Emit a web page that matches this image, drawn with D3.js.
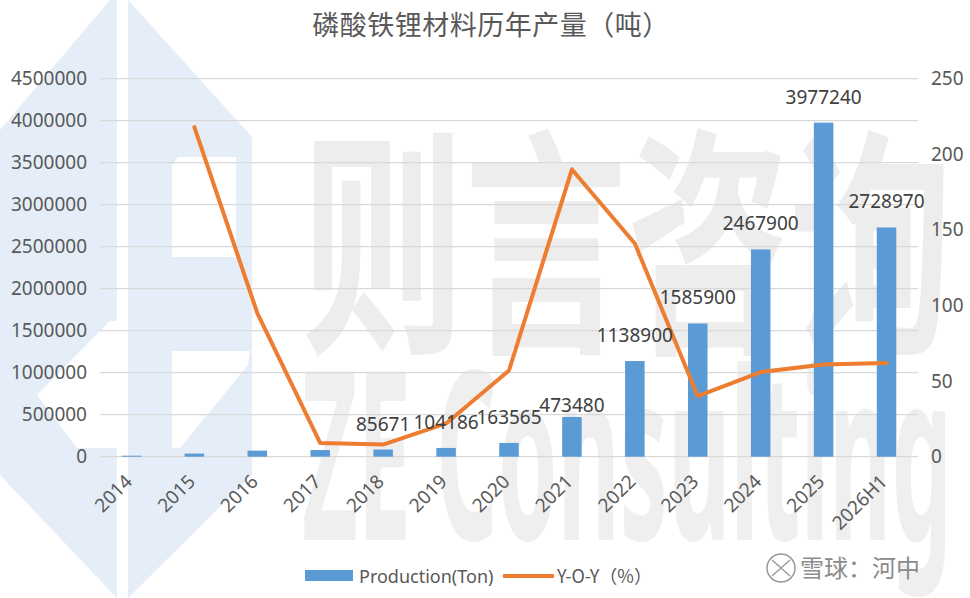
<!DOCTYPE html>
<html>
<head>
<meta charset="utf-8">
<script src="https://cdn.jsdelivr.net/npm/d3@7"></script>
<style>
  html, body { margin: 0; padding: 0; background: #fff; }
  svg { display: block; }
</style>
</head>
<body>
<svg id="chart" width="970" height="598"></svg>
<script>

// data
var years      = ["2014","2015","2016","2017","2018","2019","2020","2021","2022","2023","2024","2025","2026H1"];
var production = [12000, 37000, 72000, 79000, 85671, 104186, 163565, 473480, 1138900, 1585900, 2467900, 3977240, 2728970];
var yoy        = [null, 218, 95, 9, 8, 22, 57, 190, 141, 40, 56, 61, 62];
var leftTicks  = [0,500000,1000000,1500000,2000000,2500000,3000000,3500000,4000000,4500000];
var rightTicks = [0,50,100,150,200,250];

var title = "磷酸铁锂材料历年产量（吨）";
var barName = "Production(Ton)", lineName = "Y-O-Y（%）";

var W=970, H=598;
var pLeft=100, pRight=918, pTop=78.7, pBottom=456.7;   // plot area
var numFont = "'Noto Sans', 'DejaVu Sans', sans-serif";
var cjkFont = "'Noto Sans CJK SC', 'Noto Sans', sans-serif";

var svg = d3.select("#chart");

/* watermark background, drawn first so everything sits on it */
var wm = svg.append("g").attr("class","watermark");
var wmBlue="#e5eef8";
wm.append("polygon").attr("points","128,0 252,137 252,475 128,598").attr("fill",wmBlue);
wm.append("polygon").attr("points","110,0 117,0 117,598 0,475 0,130").attr("fill",wmBlue);
// white cut-outs of the logo
wm.append("polygon").attr("points","178,157 236,157 236,257 172,257 172,165").attr("fill","#fff");
wm.append("polygon").attr("points","172,351 250,351 248,365 180,448 172,448").attr("fill","#fff");
wm.append("polygon").attr("points","110,321 117,321 117,448 77,448 37,395").attr("fill","#fff");

wm.append("text")
	.attr("x",302).attr("y",334)
	.attr("font-family",cjkFont).attr("font-weight","bold")
	.attr("font-size",240).attr("fill","#ededed")
	.attr("textLength",650).attr("lengthAdjust","spacingAndGlyphs")
	.text("则言咨询");
wm.append("text")
	.attr("x",302).attr("y",540)
	.attr("font-family",numFont).attr("font-weight","bold")
	.attr("font-size",235).attr("fill","#efefef")
	.attr("textLength",650).attr("lengthAdjust","spacingAndGlyphs")
	.text("ZE Consulting");

// scales
var x = d3.scaleBand().domain(years).range([pLeft,pRight]).paddingInner(0.69).paddingOuter(0.345);
var xc = function(d){ return x(d)+x.bandwidth()/2; };
var y = d3.scaleLinear().domain([0,4500000]).range([pBottom,pTop]);
var y2 = d3.scaleLinear().domain([0,250]).range([pBottom,pTop]);

// gridlines
svg.append("g").selectAll("line").data(leftTicks).enter().append("line")
	.attr("x1",pLeft).attr("x2",pRight)
	.attr("y1",function(d){return y(d);}).attr("y2",function(d){return y(d);})
	.attr("stroke","#d9d9d9").attr("stroke-width",1.2);

// axes (labels only, no domain)
var axL = svg.append("g").attr("transform","translate("+pLeft+",0)")
	.call(d3.axisLeft(y).tickValues(leftTicks).tickSize(0).tickPadding(13).tickFormat(d3.format("d")));
var axR = svg.append("g").attr("transform","translate("+pRight+",0)")
	.call(d3.axisRight(y2).tickValues(rightTicks).tickSize(0).tickPadding(13));
[axL,axR].forEach(function(a){
	a.select(".domain").remove();
	a.selectAll("text").attr("font-family",numFont).attr("font-size",19).attr("fill","#595959");
});

var axB = svg.append("g").attr("transform","translate(0,"+pBottom+")")
	.call(d3.axisBottom(x).tickSize(0).tickPadding(0));
axB.select(".domain").remove();
axB.selectAll("text")
	.attr("font-family",numFont).attr("font-size",19).attr("fill","#595959")
	.attr("text-anchor","end").attr("dy",0).attr("y",0)
	.attr("transform","translate(2,26) rotate(-45)");

// bars
svg.append("g").selectAll("rect").data(years).enter().append("rect")
	.attr("x",function(d){return x(d);})
	.attr("width",x.bandwidth())
	.attr("y",function(d,i){return y(production[i]);})
	.attr("height",function(d,i){return pBottom-y(production[i]);})
	.attr("fill","#5b9bd5");

// yoy line
var line = d3.line()
	.defined(function(d){return d[1]!=null;})
	.x(function(d){return xc(d[0]);})
	.y(function(d){return y2(d[1]);});
svg.append("path")
	.datum(years.map(function(d,i){return [d,yoy[i]];}))
	.attr("d",line)
	.attr("fill","none").attr("stroke","#ed7d31").attr("stroke-width",4)
	.attr("stroke-linejoin","round").attr("stroke-linecap","round");

// data labels, only from 2018 on; the 2021 one was dragged down in the original
var nudge = {"2021":14};
svg.append("g").selectAll("text").data(years.slice(4)).enter().append("text")
	.attr("x",function(d){return xc(d);})
	.attr("y",function(d){ var i=years.indexOf(d); return y(production[i])-19+(nudge[d]||0); })
	.attr("text-anchor","middle")
	.attr("font-family",numFont).attr("font-size",19).attr("fill","#404040")
	.text(function(d){ return production[years.indexOf(d)]; });

// title
svg.append("text")
	.attr("x",491).attr("y",35)
	.attr("text-anchor","middle")
	.attr("font-family",cjkFont).attr("font-size",27).attr("fill","#595959")
	.attr("letter-spacing",0.5)
	.text(title);

// legend
var lg = svg.append("g");
lg.append("rect").attr("x",305).attr("y",570).attr("width",48).attr("height",11).attr("fill","#5b9bd5");
lg.append("text").attr("x",359).attr("y",583)
	.attr("font-family",numFont).attr("font-size",18).attr("fill","#595959").text(barName);
lg.append("line").attr("x1",503).attr("x2",554).attr("y1",576).attr("y2",576)
	.attr("stroke","#ed7d31").attr("stroke-width",4);
lg.append("text").attr("x",557).attr("y",583)
	.attr("font-family",cjkFont).attr("font-size",18).attr("fill","#595959").text(lineName);

// platform watermark bottom right
var sw = svg.append("g").attr("fill","none").attr("stroke","#9a9a9a").attr("stroke-width",1.5);
sw.append("circle").attr("cx",781).attr("cy",568).attr("r",14);
sw.append("path").attr("d","M772,560 L790,576 M790,560 L772,576");
svg.append("text").attr("x",800).attr("y",577)
	.attr("font-family",cjkFont).attr("font-size",24).attr("fill","#8c8c8c")
	.text("雪球：河中");

</script>
</body>
</html>
